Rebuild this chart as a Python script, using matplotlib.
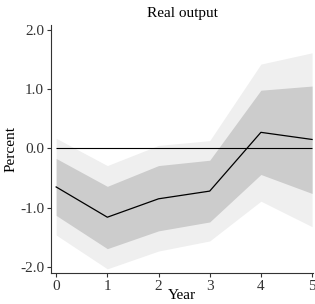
import numpy as np
import matplotlib.pyplot as plt

plt.rcParams['font.family'] = ['Liberation Serif', 'DejaVu Serif']
plt.rcParams['axes.unicode_minus'] = False

years = [0, 1, 2, 3, 4, 5]
irf = [-0.65, -1.16, -0.85, -0.72, 0.27, 0.15]
band68_lo = [-1.13, -1.69, -1.39, -1.24, -0.44, -0.76]
band68_hi = [-0.17, -0.64, -0.29, -0.20, 0.98, 1.05]
band90_lo = [-1.46, -2.03, -1.73, -1.56, -0.89, -1.32]
band90_hi = [0.17, -0.29, 0.05, 0.13, 1.42, 1.61]

fig = plt.figure(figsize=(3.15, 3.04), dpi=100)
ax = fig.add_axes([0.162, 0.102, 0.832, 0.816])

ax.fill_between(years, band90_lo, band90_hi, color='#efefef', lw=0)
ax.fill_between(years, band68_lo, band68_hi, color='#cccccc', lw=0)
ax.hlines(0, years[0], years[-1], color='black', lw=0.8)
ax.plot(years, irf, color='black', lw=0.9)

ax.set_xlim(-0.1, 5.02)
ax.set_ylim(-2.1, 2.08)
ax.set_xticks(years)
ax.set_yticks([-2, -1, 0, 1, 2])
ax.set_yticklabels(['-2.0', '-1.0', '0.0', '1.0', '2.0'])
ax.spines['top'].set_visible(False)
ax.spines['right'].set_visible(False)
ax.tick_params(labelsize=11, length=3, width=0.8, pad=2, colors='#333333')
ax.spines['left'].set_color('#333333')
ax.spines['bottom'].set_color('#333333')

ax.set_title("Real output", fontsize=11, pad=6)
ax.set_ylabel("Percent", fontsize=11, labelpad=2)
ax.set_xlabel("Year", fontsize=11, labelpad=-3)

fig.savefig("out.png", dpi=100)
